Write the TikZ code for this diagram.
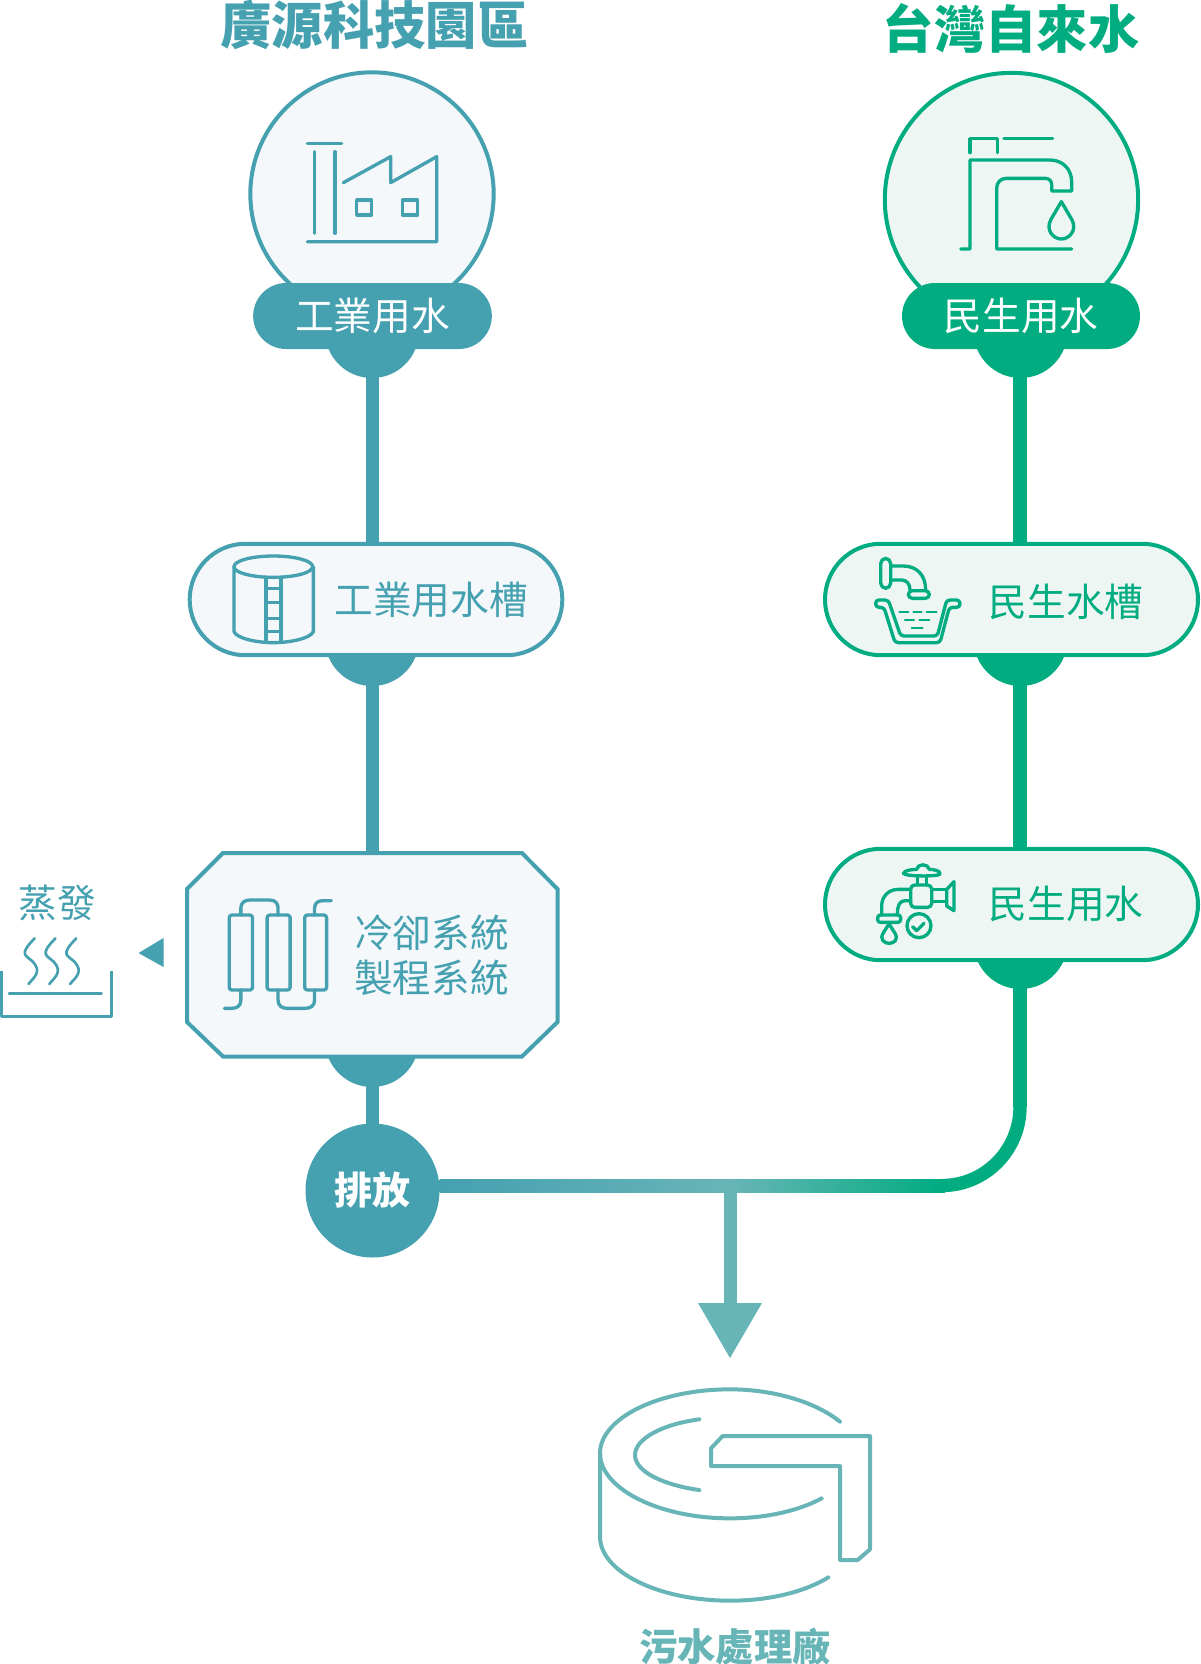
\documentclass[tikz,border=0pt]{standalone}
\usepackage{fontspec}
\setmainfont{Noto Sans CJK TC}
\usetikzlibrary{shapes.misc,calc,backgrounds}
\definecolor{teal}{HTML}{45A0B0}
\definecolor{grn}{HTML}{00AC80}
\definecolor{mid}{HTML}{68B5B7}
\definecolor{tealbg}{HTML}{F4F8FB}
\definecolor{grnbg}{HTML}{EEF6F4}
\newcommand{\fs}[1]{\fontsize{#1}{#1}\selectfont}
\tikzset{
  txt/.style={inner sep=0pt,outer sep=0pt,font=\fs{29}},
  title/.style={inner sep=0pt,outer sep=0pt,font=\fs{38.5}\bfseries},
  pillbox/.style={rounded rectangle,inner sep=0pt,outer sep=0pt,line width=3pt,
    minimum width=#1,minimum height=83.6pt},
  headpill/.style={rounded rectangle,inner sep=0pt,outer sep=0pt,
    minimum width=#1,minimum height=49.5pt},
  pipeline/.style={line width=10pt},
  icon/.style={line width=2.5pt,line join=round,line cap=round},
  zoomed/.style={x=.25pt,y=-.25pt},
}
\begin{document}
\begin{tikzpicture}[x=.75pt,y=-.75pt]
\useasboundingbox (0,0) rectangle (1200,1664);

% titles
\node[title,text=teal] (titleA) at (374.5,25) {廣源科技園區};
\node[title,text=grn] (titleB) at (1011,28) {台灣自來水};

% source circles
\node[circle,draw=teal,fill=tealbg,line width=3pt,minimum size=182.5pt,inner sep=0pt,outer sep=0pt] (srcA) at (372,194) {};
\node[circle,draw=grn,fill=grnbg,line width=3pt,minimum size=190pt,inner sep=0pt,outer sep=0pt] (srcB) at (1011.5,199.5) {};

% head pills
\node[headpill=179pt,fill=teal] (headA) at (372.5,316) {};
\node[headpill=178.5pt,fill=grn] (headB) at (1021,316) {};
\node[txt,text=white] (headAt) at (372.5,316) {工業用水};
\node[txt,text=white] (headBt) at (1021,316) {民生用水};

% process boxes
\node[pillbox=279.5pt,draw=teal,fill=tealbg] (tankA) at (376,599.5) {};
\node[pillbox=279.75pt,draw=grn,fill=grnbg] (tankB) at (1011.5,599.5) {};
\node[pillbox=279.75pt,draw=grn,fill=grnbg] (useB) at (1011.5,904.5) {};
\draw[teal,fill=tealbg,line width=3pt,line join=miter]
  (223,853) -- (522,853) -- (557.5,889) -- (557.5,1022) -- (522,1056.5) -- (223,1056.5) -- (187,1022) -- (187,889) -- cycle;
\node[inner sep=0pt,outer sep=0pt,minimum width=278pt,minimum height=153pt] (proc) at (372,954.5) {};
\node[txt,text=teal] (tankAt) at (431,600) {工業用水槽};
\node[txt,text=grn] (tankBt) at (1066,602) {民生水槽};
\node[txt,text=grn] (useBt) at (1066,904) {民生用水};
\node[txt,text=teal] (procT1) at (431.5,933) {冷卻系統};
\node[txt,text=teal] (procT2) at (431.5,978) {製程系統};

% discharge
\node[circle,fill=teal,minimum size=100.5pt,inner sep=0pt,outer sep=0pt,text=white,font=\fs{28.5}\bfseries] (out) at (372.5,1190.5) {\raisebox{-1pt}{排放}};
\coordinate (junction) at (730,1185.5);
\coordinate (bend) at (942,1185.5);
\coordinate (riser) at (1020,1107);
\coordinate (tip) at (730,1358);

% evaporation
\node[txt,text=teal] (evap) at (57.5,903) {蒸發};
\fill[teal] (138.5,953) -- (163.5,938) -- (163.5,967) -- cycle;

% sewage label
\node[title,text=mid,font=\fs{28.8}\bfseries] (plant) at (735,1647) {污水處理廠};

% connectors + lobes behind the boxes
\begin{pgfonlayer}{background}
  \foreach \c/\n/\xx/\yy in {teal/A/372/331,teal/B/372/639,teal/C/372/1040,grn/D/1020.5/331,grn/E/1020.5/639,grn/F/1020.5/942}{
    \fill[\c] (\xx,\yy) circle[radius=47];
  }
  \draw[teal,pipeline] (372.5,330) -- (372.5,1130);
  \draw[grn,pipeline] (1020,330) -- (riser);
  \draw[grn,pipeline] (riser) .. controls (1020,1150.3) and (985,1185.5) .. (bend);
  \shade[left color=teal,right color=mid] (out.east |- 0,1179) rectangle (730,1192);
  \shade[left color=mid,right color=grn] (730,1179) rectangle (945,1192);
  \draw[mid,line width=9.75pt] (junction) ++(0,6) -- (730,1304);
  \fill[mid] (698,1303) -- (762,1303) -- (tip) -- cycle;
\end{pgfonlayer}

% factory icon
\begin{scope}[shift={(200,0)},zoomed,teal,icon]
  \draw (322,430) -- (425,430);
  \draw (344,455) -- (344,700);
  \draw (405,455) -- (405,700);
  \draw (322,725) -- (710,725) -- (710,470) -- (572,548) -- (572,470) -- (430,548);
  \draw (470,600) rectangle (515,645);
  \draw (607,600) rectangle (653,645);
\end{scope}

% tap icon
\begin{scope}[shift={(850,0)},zoomed,grn,icon]
  \draw (360,458) -- (360,416) -- (442,416) -- (442,458);
  \draw (462,416) -- (608,416);
  \draw (332,747) -- (360,747) -- (360,480) -- (600,480)
    .. controls (640,480) and (665,510) .. (665,545) -- (665,573) -- (605,573) -- (605,555)
    .. controls (605,542) and (597,535) .. (585,535) -- (470,535)
    .. controls (452,535) and (440,547) .. (440,565) -- (440,747) -- (665,747);
  \draw (634,605) -- (603,658) .. controls (585,690) and (610,717) .. (634,717)
    .. controls (658,717) and (683,690) .. (665,658) -- cycle;
\end{scope}

% tank icon
\begin{scope}[shift={(180,530)},zoomed,teal,icon]
  \draw (280,110) ellipse[x radius=118,y radius=32];
  \draw (162,110) -- (162,305) .. controls (170,325) and (230,338) .. (280,338)
    .. controls (330,338) and (392,325) .. (400,305) -- (400,110);
  \draw (258,142) -- (258,336);
  \draw (303,142) -- (303,336);
  \foreach \r in {175,218,265,305}{\draw (258,\r) -- (303,\r);}
\end{scope}

% basin icon
\begin{scope}[shift={(810,530)},zoomed,grn,icon]
  \draw[rounded corners=4pt] (212,85) rectangle (242,175);
  \draw (242,108) -- (280,108) .. controls (320,108) and (347,135) .. (347,180);
  \draw (242,150) -- (275,150) .. controls (290,150) and (300,162) .. (300,180);
  \draw[rounded corners=3pt] (295,182) rectangle (358,205);
  \draw[rounded corners=2.5pt] (235,210) -- (197,210) -- (197,232) -- (222,232) -- (255,338) -- (390,338) -- (418,232) -- (450,232) -- (450,210) -- (410,210) -- (382,318) -- (272,318) -- cycle;
  \draw[line width=1.6pt] (268,245) -- (295,245) (310,245) -- (335,245) (350,245) -- (380,245);
  \draw[line width=1.6pt] (285,270) -- (312,270) (328,270) -- (358,270);
  \draw[line width=1.6pt] (305,293) -- (338,293);
\end{scope}

% faucet-check icon
\begin{scope}[shift={(810,830)},zoomed,grn,icon]
  \draw (280,130) .. controls (282,120) and (312,118) .. (320,118)
    .. controls (322,100) and (355,100) .. (358,118)
    .. controls (370,118) and (392,122) .. (390,132) .. controls (388,140) and (285,140) .. (280,130) -- cycle;
  \draw (322,140) -- (322,165) (350,140) -- (350,165);
  \draw[rounded corners=3pt] (302,165) rectangle (365,232);
  \draw (365,178) -- (410,178) (365,215) -- (410,215);
  \draw (410,178) -- (432,155) -- (432,242) -- (410,228) -- cycle;
  \draw (302,178) -- (265,178) .. controls (235,178) and (215,200) .. (215,228) -- (215,255);
  \draw (302,212) -- (285,212) .. controls (270,212) and (262,225) .. (262,255);
  \draw[rounded corners=2pt] (203,255) rectangle (272,277);
  \draw (237,282) -- (222,305) .. controls (205,330) and (225,340) .. (237,340)
    .. controls (250,340) and (270,330) .. (252,305) -- cycle;
  \draw (327,287) ellipse[x radius=36,y radius=36];
  \draw (308,290) -- (320,302) -- (342,280);
\end{scope}

% cooling icon
\begin{scope}[shift={(0,840)},x=.2737pt,y=-.25pt,teal,icon]
  \draw[rounded corners=2pt] (628,225) rectangle (692,450);
  \draw[rounded corners=2pt] (732,225) rectangle (795,450);
  \draw[rounded corners=2pt] (835,225) rectangle (895,450);
  \draw (660,225) -- (660,205) .. controls (660,190) and (668,180) .. (685,180) -- (738,180)
    .. controls (755,180) and (762,190) .. (762,205) -- (762,225);
  \draw (862,225) -- (862,205) .. controls (862,190) and (870,182) .. (885,182) -- (908,182);
  \draw (660,450) -- (660,480) .. controls (660,497) and (650,505) .. (635,505) -- (615,505);
  \draw (762,450) -- (762,480) .. controls (762,497) and (772,505) .. (787,505) -- (835,505)
    .. controls (852,505) and (862,497) .. (862,480) -- (862,450);
\end{scope}

% evaporation icon
\begin{scope}[shift={(0,840)},x=.2737pt,y=-.25pt,teal,icon,line width=2pt]
  \foreach \d in {0,57,114}{
    \draw[xshift=\d*.2737pt] (95,295) .. controls (50,345) and (70,345) .. (90,365)
      .. controls (115,395) and (95,410) .. (78,432);
  }
  \draw (25,460) -- (278,460);
  \draw[line cap=butt] (5,392) -- (5,530) -- (305,530) -- (305,392);
\end{scope}

% treatment plant icon
\begin{scope}[shift={(570,1360)},zoomed,mid,icon,line width=3pt]
  \draw (810,185) .. controls (735,125) and (610,88) .. (480,88)
    .. controls (265,88) and (90,175) .. (90,280)
    .. controls (90,385) and (265,475) .. (480,475)
    .. controls (585,475) and (685,453) .. (755,415);
  \draw (388,178) .. controls (280,192) and (195,235) .. (195,285)
    .. controls (195,335) and (280,375) .. (388,390);
  \draw (90,280) -- (90,530) .. controls (90,635) and (265,722) .. (480,722)
    .. controls (600,722) and (705,695) .. (775,652);
  \draw (458,228) -- (900,228) -- (900,568) -- (863,600) -- (810,600) -- (810,318) -- (423,318) -- (423,265) -- cycle;
\end{scope}
\end{tikzpicture}
\end{document}
